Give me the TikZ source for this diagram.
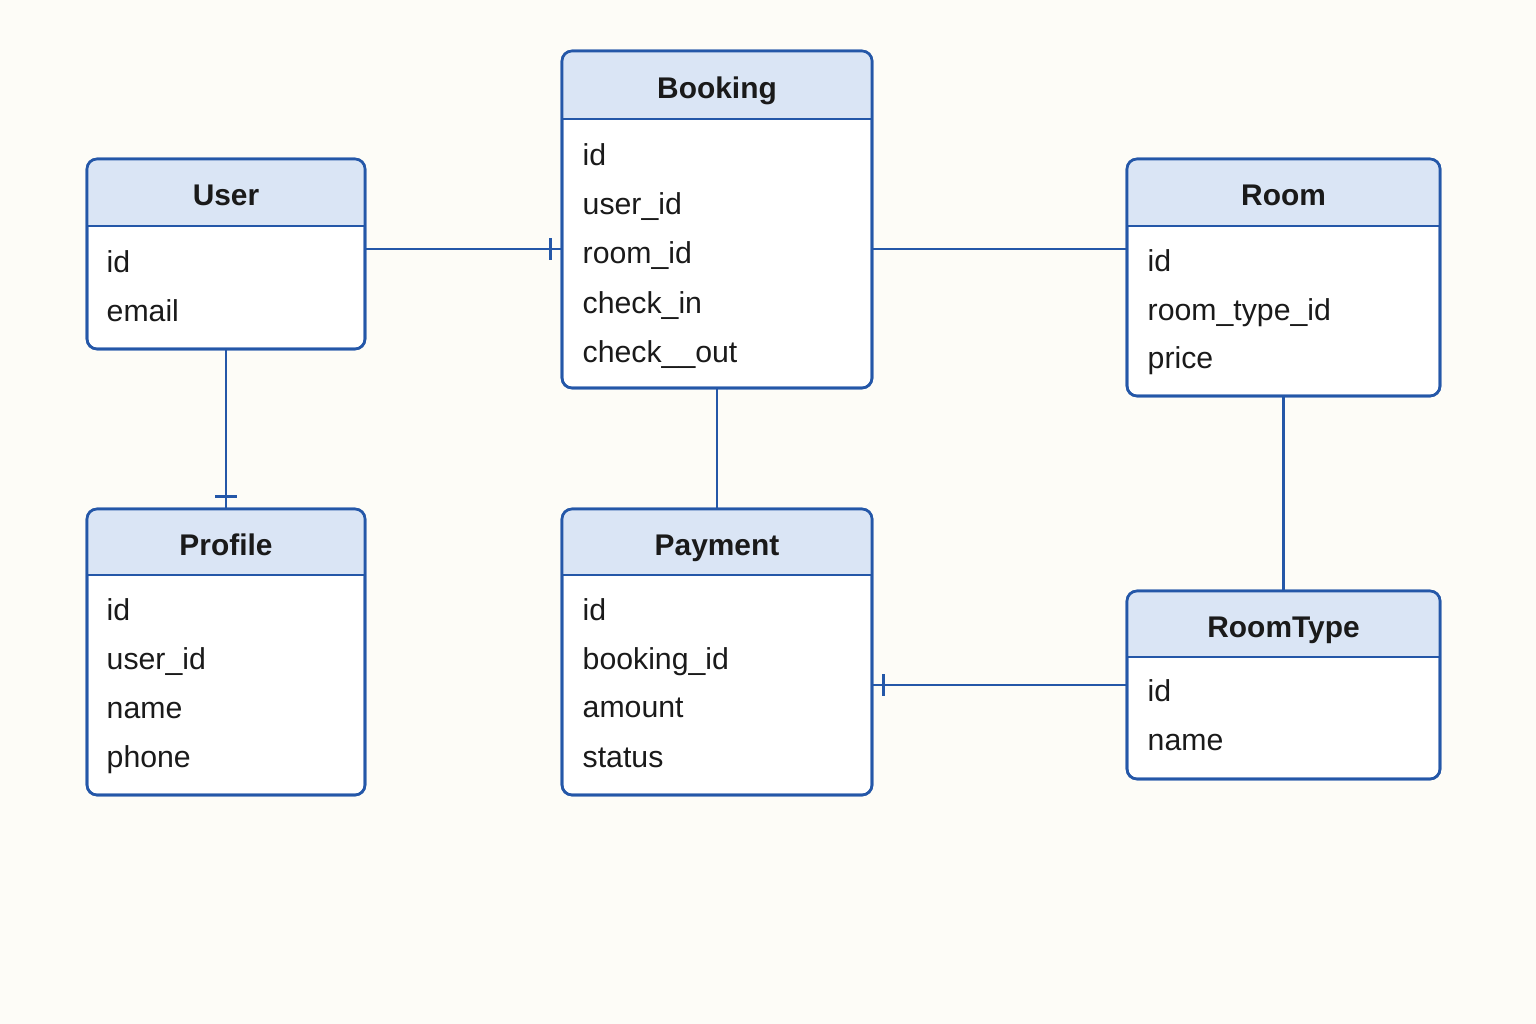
\documentclass[tikz,border=0pt]{standalone}
\usepackage{fontspec}
\setmainfont{Liberation Sans}
\usetikzlibrary{fit,calc}
\definecolor{bgc}{HTML}{FDFCF7}
\definecolor{headc}{HTML}{DAE5F5}
\definecolor{linec}{HTML}{2457A8}
\definecolor{txtc}{HTML}{1A1A1A}
\tikzset{
  border/.style={draw=linec, line width=0.75pt, rounded corners=0.1cm},
  conn/.style={draw=linec, line width=0.7pt},
  titletext/.style={font=\fontsize{8.5}{10}\selectfont\bfseries, text=txtc, inner sep=0pt, anchor=base},
  attrtext/.style={font=\fontsize{8.6}{10}\selectfont, text=txtc, anchor=base west, inner sep=0pt}
}
% #1 name, #2 left, #3 top, #4 right, #5 bottom, #6 header bottom, #7 title
\newcommand\erentity[7]{%
  \node[fit={(#2,#3) (#4,#5)}, inner sep=0pt] (#1) {};
  \path[border, fill=white] (#2,#3) rectangle (#4,#5);
  \begin{scope}
    \clip[rounded corners=0.1cm] (#2,#3) rectangle (#4,#5);
    \fill[headc] (#2,#3) rectangle (#4,#6);
  \end{scope}
  \draw[conn, line width=0.75pt] (#2,#6) -- (#4,#6);
  \path[border] (#2,#3) rectangle (#4,#5);
  \node[titletext] (#1-title) at ($(#2,#3)!0.5!(#4,#6) + (0,13)$) {#7};
}
\begin{document}
\begin{tikzpicture}[x=0.01cm, y=-0.01cm]
\fill[bgc] (0,0) rectangle (1536,1024);
\useasboundingbox (0,0) rectangle (1536,1024);

\erentity{user}{87}{159}{365}{349}{226}{User}
\node[attrtext] (u1) at (106,272) {id};
\node[attrtext] (u2) at (106,321) {email};

\erentity{booking}{562}{51}{872}{388}{119}{Booking}
\node[attrtext] (b1) at (582,165) {id};
\node[attrtext] (b2) at (582,214) {user\_id};
\node[attrtext] (b3) at (582,263) {room\_id};
\node[attrtext] (b4) at (582,313) {check\_in};
\node[attrtext] (b5) at (582,362) {check\_\_out};

\erentity{room}{1127}{159}{1440}{396}{226}{Room}
\node[attrtext] (r1) at (1147,271) {id};
\node[attrtext] (r2) at (1147,320) {room\_type\_id};
\node[attrtext] (r3) at (1147,368) {price};

\erentity{profile}{87}{509}{365}{795}{575}{Profile}
\node[attrtext] (p1) at (106,620) {id};
\node[attrtext] (p2) at (106,669) {user\_id};
\node[attrtext] (p3) at (106,718) {name};
\node[attrtext] (p4) at (106,767) {phone};

\erentity{payment}{562}{509}{872}{795}{575}{Payment}
\node[attrtext] (y1) at (582,620) {id};
\node[attrtext] (y2) at (582,669) {booking\_id};
\node[attrtext] (y3) at (582,717) {amount};
\node[attrtext] (y4) at (582,767) {status};

\erentity{roomtype}{1127}{591}{1440}{779}{657}{RoomType}
\node[attrtext] (t1) at (1147,701) {id};
\node[attrtext] (t2) at (1147,750) {name};

\coordinate (lvl) at (0,249);
% connectors
\draw[conn] (user.east |- lvl) -- (booking.west |- lvl);
\draw[conn] ([xshift=-0.11cm]booking.west |- lvl) ++(0,-11) -- ++(0,22);
\draw[conn] (user.south) -- (profile.north);
\draw[conn] ([yshift=0.12cm]profile.north) ++(-11,0) -- ++(22,0);
\draw[conn] (booking.east |- lvl) -- (room.west |- lvl);
\draw[conn] (booking.south) -- (booking.south |- payment.north);
\draw[conn] (room.south) -- (room.south |- roomtype.north);
\draw[conn] (roomtype.west) -- (roomtype.west -| payment.east);
\draw[conn] ([xshift=0.11cm]payment.east |- roomtype.west) ++(0,-11) -- ++(0,22);
\end{tikzpicture}
\end{document}
